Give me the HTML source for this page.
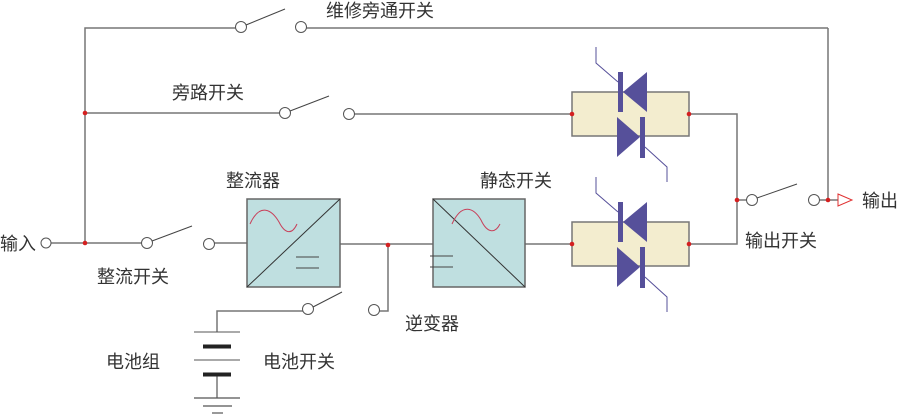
<!DOCTYPE html>
<html><head><meta charset="utf-8"><style>
html,body{margin:0;padding:0;background:#fff;}
svg{display:block;}
text{font-family:"Liberation Sans","Noto Sans CJK SC",sans-serif;font-size:18px;fill:#333;}
</style></head><body>
<svg width="899" height="418" viewBox="0 0 899 418" xmlns="http://www.w3.org/2000/svg">
<defs>
<g id="thy">
  <rect x="572" y="92" width="117" height="44" fill="#f3edcf" stroke="#777" stroke-width="1.5"/>
  <rect x="618" y="72" width="5" height="40" fill="#56509a"/>
  <polygon points="623,92 647,72 647,112" fill="#56509a"/>
  <polyline points="618,82 596,63 596,47" fill="none" stroke="#56509a" stroke-width="1"/>
  <polygon points="617,117 617,157 640,137" fill="#56509a"/>
  <rect x="640" y="117" width="5" height="41" fill="#56509a"/>
  <polyline points="645,147 667,167 667,182" fill="none" stroke="#56509a" stroke-width="1"/>
</g>
</defs>
<g fill="none" stroke="#777" stroke-width="1.5">
  <line x1="51" y1="243" x2="142" y2="243"/>
  <polyline points="85,243 85,28 236,28"/>
  <line x1="306" y1="28" x2="828" y2="28"/>
  <line x1="828" y1="28" x2="828" y2="200"/>
  <line x1="85" y1="113" x2="280" y2="113"/>
  <line x1="354" y1="114" x2="572" y2="114"/>
  <polyline points="689,114 737,114 737,244 689,244"/>
  <line x1="737" y1="200" x2="747" y2="200"/>
  <line x1="819" y1="200" x2="838" y2="200"/>
  <line x1="214" y1="243" x2="247" y2="243"/>
  <line x1="340" y1="244" x2="433" y2="244"/>
  <line x1="525" y1="244" x2="572" y2="244"/>
  <polyline points="388,244 388,311 379,311"/>
  <polyline points="303,311 217,311 217,332"/>
  <line x1="217" y1="374" x2="217" y2="398"/>
</g>
<g fill="#fff" stroke="#555" stroke-width="1">
  <circle cx="46" cy="243" r="5"/>
  <circle cx="241" cy="27" r="5.5"/><circle cx="301" cy="27" r="5.5"/>
  <circle cx="285" cy="113" r="5.5"/><circle cx="349" cy="114" r="5.5"/>
  <circle cx="147" cy="243" r="5.5"/><circle cx="209" cy="244" r="5.5"/>
  <circle cx="308" cy="309" r="5.5"/><circle cx="374" cy="310" r="5.5"/>
  <circle cx="752" cy="200" r="5.5"/><circle cx="814" cy="200" r="5.5"/>
</g>
<g stroke="#444" stroke-width="1">
  <line x1="246" y1="25" x2="285" y2="9"/>
  <line x1="290" y1="111" x2="329" y2="96"/>
  <line x1="152" y1="241" x2="192" y2="226"/>
  <line x1="313" y1="307" x2="342" y2="292"/>
  <line x1="757" y1="198" x2="797" y2="184"/>
</g>
<rect x="247" y="199" width="93" height="88" fill="#bfdfe0" stroke="#666" stroke-width="1.5"/>
<line x1="247" y1="287" x2="340" y2="199" stroke="#333" stroke-width="1"/>
<path d="M250,224 C260,202 272,210 279,222 C285,234 292,235 297,224" fill="none" stroke="#c8405a" stroke-width="1"/>
<line x1="296" y1="257" x2="319" y2="257" stroke="#444"/><line x1="296" y1="268" x2="319" y2="268" stroke="#444"/>
<rect x="433" y="199" width="92" height="88" fill="#bfdfe0" stroke="#666" stroke-width="1.5"/>
<line x1="433" y1="199" x2="525" y2="287" stroke="#333" stroke-width="1"/>
<path d="M452,224 C462,202 474,208 481,220 C487,233 495,234 500,224" fill="none" stroke="#c8405a" stroke-width="1"/>
<line x1="430" y1="256" x2="453" y2="256" stroke="#444"/>
<line x1="430" y1="267" x2="453" y2="267" stroke="#444"/>
<use href="#thy"/>
<use href="#thy" transform="translate(0,130)"/>
<g stroke="#555">
  <line x1="194" y1="332" x2="240" y2="332" stroke-width="1"/>
  <line x1="203" y1="346.5" x2="231" y2="346.5" stroke="#222" stroke-width="4"/>
  <line x1="194" y1="360" x2="240" y2="360" stroke-width="1"/>
  <line x1="203" y1="374.5" x2="231" y2="374.5" stroke="#222" stroke-width="4"/>
  <line x1="194" y1="398" x2="240" y2="398" stroke-width="1.2"/>
  <line x1="203" y1="406" x2="232" y2="406" stroke-width="1.2"/>
  <line x1="212" y1="413" x2="223" y2="413" stroke-width="1.2"/>
</g>
<polygon points="838,194 852,200 838,206" fill="#fff" stroke="#e03030" stroke-width="1"/>
<g fill="#d42020">
  <circle cx="85" cy="243" r="2.3"/><circle cx="85" cy="113" r="2.3"/>
  <circle cx="388" cy="245" r="2.3"/>
  <circle cx="572" cy="114" r="2.3"/><circle cx="689" cy="114" r="2.3"/>
  <circle cx="572" cy="244" r="2.3"/><circle cx="689" cy="244" r="2.3"/>
  <circle cx="737" cy="200" r="2.3"/><circle cx="828" cy="200" r="2.3"/>
</g>
<text x="0" y="250">输入</text>
<text x="326" y="17">维修旁通开关</text>
<text x="172" y="99">旁路开关</text>
<text x="226" y="187">整流器</text>
<text x="480" y="187">静态开关</text>
<text x="97" y="283">整流开关</text>
<text x="405" y="330">逆变器</text>
<text x="106" y="368">电池组</text>
<text x="263" y="368">电池开关</text>
<text x="745" y="247">输出开关</text>
<text x="862" y="207">输出</text>
</svg>
</body></html>
